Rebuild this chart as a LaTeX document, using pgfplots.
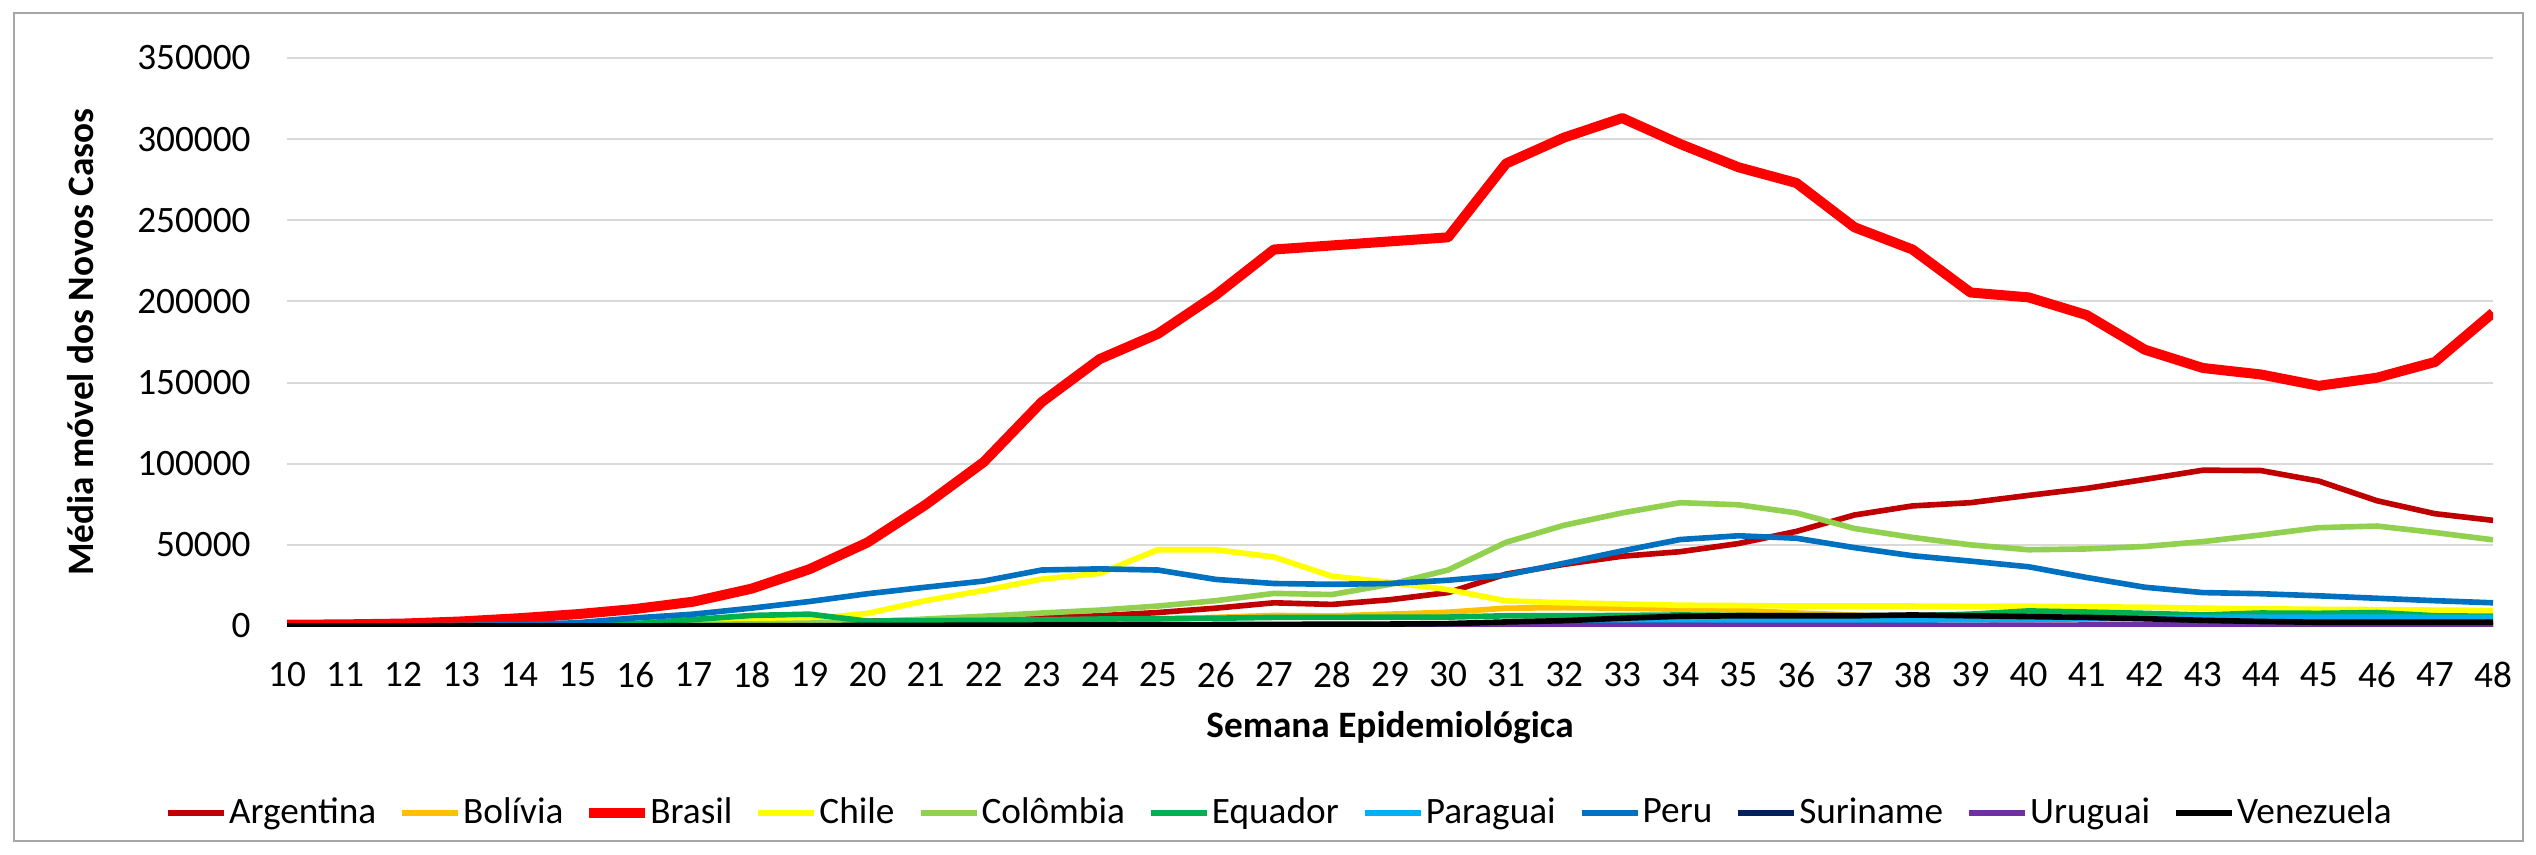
\documentclass[border=0pt]{standalone}
\usepackage{fontspec}
\setmainfont{Carlito}
\usepackage{pgfplots}
\usepackage{pgfplotstable}
\pgfplotsset{compat=1.18}
\definecolor{argc}{HTML}{C00000}
\definecolor{bolc}{HTML}{FFC000}
\definecolor{brac}{HTML}{FF0000}
\definecolor{chic}{HTML}{FFFF00}
\definecolor{colc}{HTML}{92D050}
\definecolor{equc}{HTML}{00B050}
\definecolor{parc}{HTML}{00B0F0}
\definecolor{perc}{HTML}{0070C0}
\definecolor{surc}{HTML}{002060}
\definecolor{uruc}{HTML}{7030A0}
\definecolor{venc}{HTML}{000000}
\definecolor{gridgray}{HTML}{D9D9D9}
\definecolor{framegray}{HTML}{A6A6A6}
\newcommand{\chartfont}{\fontsize{10.6}{12.7}\selectfont}

% media movel semanal de novos casos, semanas 10-48
\pgfplotstableread{
week arg bol bra chi col equ par per sur uru ven
10 100 0 800 0 0 0 0 0 0 0 0
11 100 0 1000 0 0 0 0 10 0 0 0
12 200 20 1500 50 50 50 0 100 0 0 10
13 300 50 2800 100 100 200 0 300 0 0 20
14 500 80 4800 200 200 500 0 800 0 0 50
15 700 100 7300 400 400 1000 10 2000 0 0 80
16 1000 150 10500 800 700 1500 10 5000 0 0 100
17 1500 200 15000 2900 1000 4000 10 7300 0 0 150
18 2000 300 23000 3500 1300 6500 20 11000 0 0 200
19 2500 500 35000 4300 1800 7300 20 15100 0 0 250
20 3000 800 51500 7800 2500 3000 30 19900 0 0 300
21 3500 1200 74700 15600 4300 3200 40 23900 0 10 400
22 4200 1800 101000 21900 6000 3500 50 27700 0 10 500
23 5000 2500 138000 28900 8000 3800 60 34500 0 20 600
24 6300 3300 164500 32400 9800 4300 80 35200 0 20 700
25 8300 4300 180000 47000 12300 4500 100 34500 0 30 800
26 11000 5300 204000 47000 15600 4800 150 28700 10 30 900
27 14300 6500 232000 42500 20100 5300 200 26200 20 40 1000
28 13300 6200 234500 30700 19400 5300 250 25700 30 40 1100
29 16200 7300 237000 26900 25700 5500 300 26200 50 50 1200
30 20600 8500 239500 22400 34500 5500 500 28200 80 50 1500
31 32000 11000 285000 15500 51600 6300 1000 31400 100 200 2500
32 38000 11300 301000 14300 62100 6300 1800 38700 150 250 3300
33 43000 11000 313000 13600 69700 6500 2500 46300 150 300 4800
34 45800 10300 297000 12800 76000 6800 3000 53300 150 300 6000
35 50800 9800 282700 12600 74700 6500 3300 55600 100 300 6300
36 58300 8000 273000 12300 69700 6300 3500 54100 100 300 6300
37 68400 6800 245700 12300 60100 6300 3500 48300 80 350 6300
38 74000 5500 232000 12300 54600 6300 3700 43300 80 400 6800
39 76000 4300 205500 12100 50000 7300 3800 40000 60 400 6300
40 80500 4300 202500 12200 47000 9300 4000 36500 50 500 5800
41 84800 4000 191600 11800 47500 8600 4500 29900 50 600 5300
42 90300 3800 170300 11600 49000 7800 5000 23900 40 700 4500
43 96000 3000 159000 11000 52000 6800 5300 20600 40 800 3500
44 95800 2300 155000 10600 56100 8000 5500 19900 30 900 2800
45 89300 1800 148000 10300 60600 7800 5500 18600 30 1000 2300
46 77200 1800 153000 10100 61600 8300 5500 17100 30 1100 2300
47 69200 1800 162700 9800 57600 6300 5300 15600 30 1100 2300
48 65100 1800 193000 9600 53100 6000 5300 14300 30 1100 2300
}\casos

\begin{document}
\begin{tikzpicture}
\begin{axis}[
  scale only axis, width=22.06cm, height=5.68cm,
  xmin=10, xmax=48, ymin=0, ymax=350000,
  xtick={10,...,48}, ytick={0,50000,100000,150000,200000,250000,300000,350000},
  scaled y ticks=false,
  xticklabel={\pgfmathparse{int(round(\tick))}\pgfmathresult},
  yticklabels={0,50000,100000,150000,200000,250000,300000,350000},
  ymajorgrids, grid style={draw=gridgray, line width=0.57pt},
  axis line style={draw=none}, major tick length=0pt,
  tick label style={font=\chartfont},
  yticklabel style={xshift=-0.24cm},
  xticklabel style={yshift=-0.24cm},
  xlabel={Semana Epidemiológica},
  ylabel={Média móvel dos Novos Casos},
  label style={font=\chartfont\bfseries},
  xlabel style={at={(axis description cs:0.5,-0.178)}, anchor=center},
  ylabel style={at={(axis description cs:-0.0938,0.5)}, anchor=center},
  legend columns=11,
  legend style={at={(0.4442,-0.329)}, anchor=center, draw=none, font=\chartfont,
    column sep=0pt, nodes={inner xsep=0pt},
    /tikz/every odd column/.append style={column sep=0pt},
    /tikz/every even column/.append style={column sep=0pt}},
  legend image code/.code={\path[draw=none] (-0.26cm,0cm) (0.61cm,0cm);
    \draw[#1] (0cm,0cm) -- (0.56cm,0cm);},
  every axis plot/.append style={line join=round, no markers, line width=1.6pt},
]
\addplot[argc] table[x=week, y=arg] {\casos};
\addplot[bolc] table[x=week, y=bol] {\casos};
\addplot[brac, line width=2.85pt] table[x=week, y=bra] {\casos};
\addplot[chic] table[x=week, y=chi] {\casos};
\addplot[colc] table[x=week, y=col] {\casos};
\addplot[equc] table[x=week, y=equ] {\casos};
\addplot[parc] table[x=week, y=par] {\casos};
\addplot[perc] table[x=week, y=per] {\casos};
\addplot[surc] table[x=week, y=sur] {\casos};
\addplot[uruc] table[x=week, y=uru] {\casos};
\addplot[venc] table[x=week, y=ven] {\casos};
\legend{Argentina,Bolívia,Brasil,Chile,Colômbia,Equador,Paraguai,Peru,Suriname,Uruguai,Venezuela}
\end{axis}
\draw[framegray, line width=0.6pt] ([xshift=-2.73cm,yshift=-2.15cm]current axis.south west) rectangle ([xshift=0.30cm,yshift=0.45cm]current axis.north east);
\pgfresetboundingbox
\path ([xshift=-2.87cm,yshift=-2.28cm]current axis.south west) rectangle ([xshift=0.43cm,yshift=0.58cm]current axis.north east);
\end{tikzpicture}
\end{document}
